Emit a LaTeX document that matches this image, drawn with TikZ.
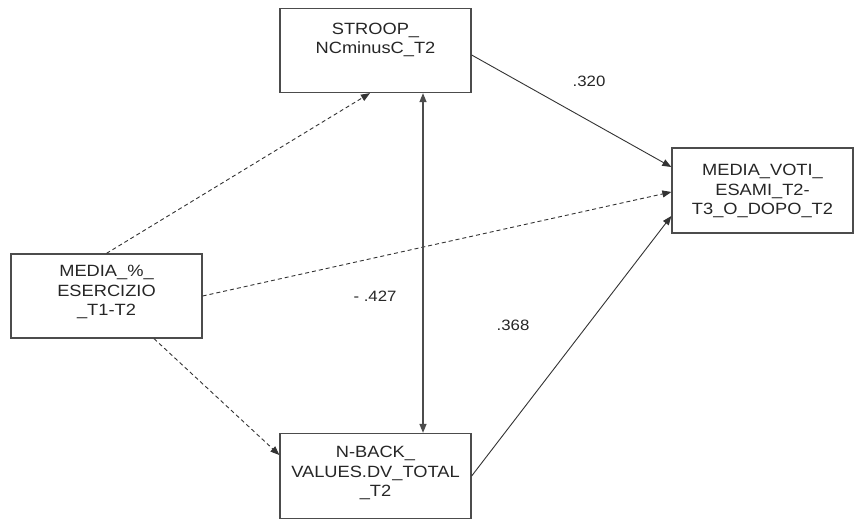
\documentclass[tikz,border=0pt]{standalone}
\usepackage{fontspec}
\setmainfont[FakeStretch=1.12]{Liberation Sans}
\usetikzlibrary{arrows.meta}
\begin{document}
\begin{tikzpicture}[x=1pt,y=-1pt,
  box/.style={draw=black!70,line width=1.3pt,rectangle,minimum width=191pt,minimum height=84pt,inner sep=0pt},
  lbl/.style={align=center,font=\fontsize{16.3}{19.5}\selectfont,text=black!85,inner sep=0pt},
  num/.style={font=\fontsize{15}{16}\selectfont,text=black!85,inner sep=0pt},
  conn/.style={draw=black!80,line width=0.9pt,-{Triangle[length=9pt,width=7pt]}},
  dconn/.style={conn,dash pattern=on 4pt off 3pt},
  biconn/.style={draw=black!70,line width=1.3pt,{Triangle[length=9pt,width=7pt]}-{Triangle[length=9pt,width=7pt]}}]
\useasboundingbox[fill=white] (0,0) rectangle (854,519);
\node[box] (stroop) at (375.5,50.5) {};
\node[box] (media) at (106.5,296) {};
\node[box,minimum height=85pt] (nback) at (375.5,476) {};
\node[box,minimum width=181pt,minimum height=85pt] (voti) at (762.5,190.5) {};
\node[lbl] (tstroop) at (375.5,40) {STROOP\_\\NCminusC\_T2};
\node[lbl] (tmedia) at (106.5,292) {MEDIA\_\%\_\\ESERCIZIO\\\_T1-T2};
\node[lbl] (tnback) at (375.5,473) {N-BACK\_\\VALUES.DV\_TOTAL\\\_T2};
\node[lbl] (tvoti) at (762.5,191) {MEDIA\_VOTI\_\\ESAMI\_T2-\\T3\_O\_DOPO\_T2};
\draw[dconn] (media.north) -- ([xshift=-5.5pt]stroop.south);
\draw[dconn] (media.east) -- ([yshift=-1.5pt]voti.west);
\draw[dconn] ([xshift=47.5pt]media.south) -- ([yshift=21pt]nback.west);
\draw[conn] ([yshift=-4.5pt]stroop.east) -- ([yshift=23.5pt]voti.west);
\draw[conn] (nback.east) -- ([yshift=-25.5pt]voti.west);
\draw[biconn] ([xshift=47.5pt]stroop.south) -- ([xshift=47.5pt]nback.north);
\node[num] (n320) at (589,81) {.320};
\node[num] (n427) at (375,296) {- .427};
\node[num] (n368) at (513,325) {.368};
\end{tikzpicture}
\end{document}
